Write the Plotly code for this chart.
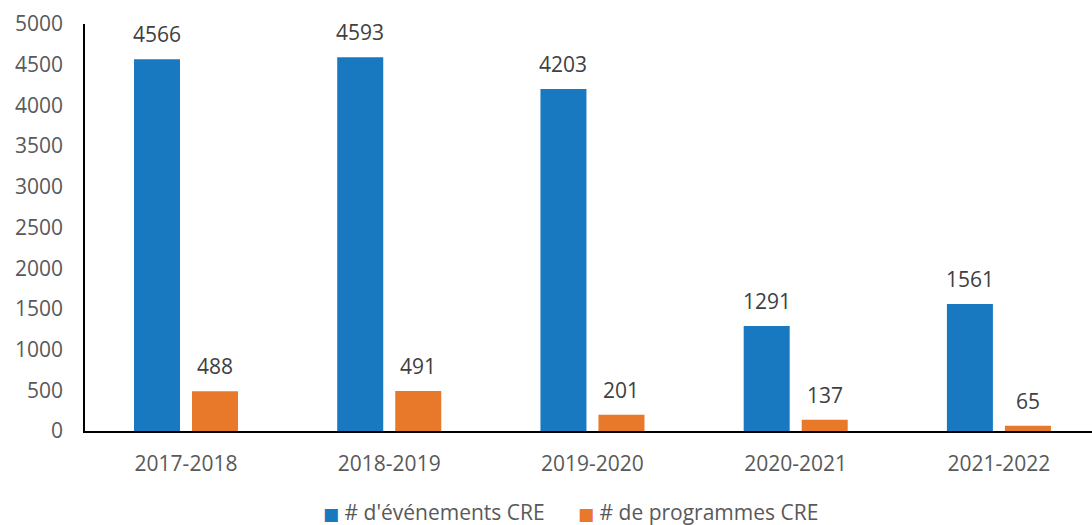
import plotly.graph_objects as go

categories = ["2017-2018", "2018-2019", "2019-2020", "2020-2021", "2021-2022"]
evenements = [4566, 4593, 4203, 1291, 1561]
programmes = [488, 491, 201, 137, 65]
tick_vals = list(range(0, 5001, 500))
series_names = ["# d'événements CRE", "# de programmes CRE"]

BLUE = "#1879C0"
ORANGE = "#E8782A"
FONT = "Open Sans"

fig = go.Figure()
fig.add_trace(go.Bar(x=categories, y=evenements, name=series_names[0],
                     marker=dict(color=BLUE, line=dict(width=0))))
fig.add_trace(go.Bar(x=categories, y=programmes, name=series_names[1],
                     marker=dict(color=ORANGE, line=dict(width=0))))

annotations = []
for series, shift in ((evenements, -29), (programmes, 29)):
    for c, v in zip(categories, series):
        annotations.append(dict(x=c, y=v, xref="x", yref="y", text=str(v),
                                showarrow=False, xshift=shift, yshift=9,
                                yanchor="bottom",
                                font=dict(family=FONT, size=21, color="#404040")))

# legend drawn as text entries below the axis
for name, color, xpos in ((series_names[0], BLUE, 0.2344), (series_names[1], ORANGE, 0.4876)):
    annotations.append(dict(
        x=xpos, y=-0.199, xref="paper", yref="paper", xanchor="left", yanchor="middle",
        showarrow=False,
        text=f"<span style='color:{color};font-family:DejaVu Sans;font-size:17px'>■</span> {name}",
        font=dict(family=FONT, size=21, color="#595959")))

fig.update_layout(
    width=1092, height=525,
    margin=dict(l=85, r=0, t=24, b=94),
    paper_bgcolor="white", plot_bgcolor="white",
    barmode="group", bargap=0.429, bargroupgap=0.207,
    font=dict(family=FONT, size=21, color="#595959"),
    showlegend=False,
    annotations=annotations,
)
fig.update_xaxes(showline=True, linecolor="black", linewidth=1.5, ticks="",
                 showgrid=False, range=[-0.497, 4.458], ticklabelstandoff=13,
                 tickfont=dict(family=FONT, size=21, color="#595959"))
fig.update_yaxes(showline=True, linecolor="black", linewidth=1.5, ticks="",
                 showgrid=False, range=[0, 5000], tickvals=tick_vals,
                 ticklabelstandoff=16, zeroline=False,
                 tickfont=dict(family=FONT, size=21, color="#595959"))

fig.write_html("out.html")
